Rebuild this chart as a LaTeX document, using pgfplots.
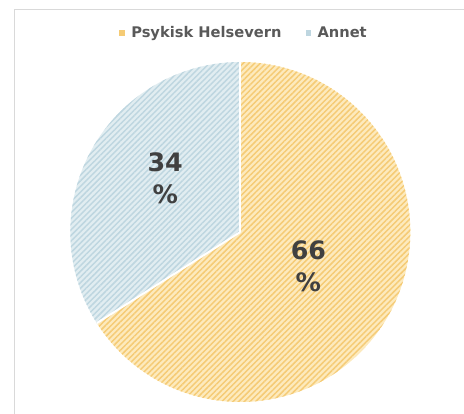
\documentclass[border=0pt]{standalone}
\usepackage{fontspec}
\setmainfont{DejaVu Sans}
\usepackage{pgfplots}
\usepackage{pgfplotstable}
\pgfplotsset{compat=1.18}
\usetikzlibrary{patterns.meta}
\definecolor{ylwbase}{HTML}{FDEABD}
\definecolor{ylwline}{HTML}{F5CB75}
\definecolor{blubase}{HTML}{E1EDF1}
\definecolor{bluline}{HTML}{BED6E0}
\definecolor{txtgray}{HTML}{595959}
\definecolor{numgray}{HTML}{404040}
\definecolor{framegray}{HTML}{D9D9D9}
\pgfplotstableread{
label value
Psykisk 66
Annet 34
}\piedata
\begin{document}
\begin{tikzpicture}[x=0.75pt,y=0.75pt]
\pgfplotstablegetelem{0}{value}\of\piedata \let\va\pgfplotsretval
\pgfplotstablegetelem{1}{value}\of\piedata \let\vb\pgfplotsretval
\useasboundingbox (0,0) rectangle (464,414);
\draw[framegray,line width=0.75pt] (14,-5) -- (14,404) -- (470,404);
\begin{axis}[
  at={(0,0)}, anchor=origin,
  width=348pt, height=310.5pt, scale only axis,
  xmin=0, xmax=464, ymin=0, ymax=414,
  axis lines=none, clip=false,
  legend style={draw=none, fill=none, at={(244/464,381/414)}, anchor=center,
    legend columns=2, font=\bfseries\fontsize{11}{13}\selectfont, text=txtgray,
    /tikz/every even column/.append style={column sep=16pt}},
  legend image code/.code={\fill[#1] (0pt,-2pt) rectangle (4pt,2pt); \path (7pt,0pt);},
]
\addlegendimage{fill=ylwline,draw=none}
\addlegendentry{Psykisk Helsevern}
\addlegendimage{fill=bluline,draw=none}
\addlegendentry{Annet}
\pgfmathsetmacro{\angA}{90-3.6*\va}
% slice 1
\fill[ylwbase] (axis cs:240,182) -- ++(90:127.5pt) arc[start angle=90, end angle=\angA, radius=127.5pt] -- cycle;
\fill[pattern={Lines[angle=45,distance=3pt,line width=1.1pt]}, pattern color=ylwline] (axis cs:240,182) -- ++(90:127.5pt) arc[start angle=90, end angle=\angA, radius=127.5pt] -- cycle;
% slice 2
\fill[blubase] (axis cs:240,182) -- ++(\angA:127.5pt) arc[start angle=\angA, end angle=-270, radius=127.5pt] -- cycle;
\fill[pattern={Lines[angle=45,distance=3pt,line width=1.1pt]}, pattern color=bluline] (axis cs:240,182) -- ++(\angA:127.5pt) arc[start angle=\angA, end angle=-270, radius=127.5pt] -- cycle;
\draw[white,line width=1.5pt] (axis cs:240,182) -- ++(90:127.5pt);
\draw[white,line width=1.5pt] (axis cs:240,182) -- ++(\angA:127.5pt);
\node[numgray, font=\bfseries\fontsize{19}{24}\selectfont, align=center] at (axis cs:308,148) {\va\\\%};
\node[numgray, font=\bfseries\fontsize{19}{24}\selectfont, align=center] at (axis cs:165,236) {\vb\\\%};
\end{axis}
\end{tikzpicture}
\end{document}
